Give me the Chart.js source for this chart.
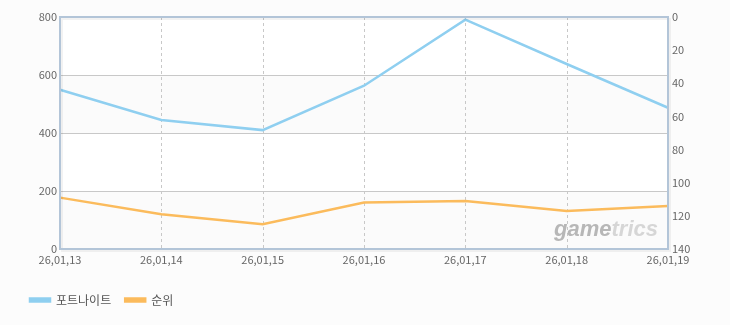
<!DOCTYPE html>
<html lang="ko">
<head>
<meta charset="UTF-8">
<title>포트나이트 순위</title>
<script src="https://cdn.jsdelivr.net/npm/chart.js"></script>
<style>
    html, body { margin: 0; padding: 0; background: #fcfcfc; }
    #wrap { width: 730px; height: 325px; }
</style>
</head>
<body>
<div id="wrap"><canvas id="rankChart"></canvas></div>
<script>
// data
const dates = ['26,01,13', '26,01,14', '26,01,15', '26,01,16', '26,01,17', '26,01,18', '26,01,19'];
const fortniteValues = [549, 445, 410, 563, 791, 638, 487];
const rankValues = [109, 119, 125, 112, 111, 117, 114];
const leftTicks = [0, 200, 400, 600, 800];
const rightTicks = [0, 20, 40, 60, 80, 100, 120, 140];

const tickFont = { family: "'Noto Sans CJK KR', 'DejaVu Sans', sans-serif", size: 11 };

// bands, border and watermark around the plot area
const plotDeco = {
    id: 'plotDeco',
    beforeDatasetsDraw(chart) {
        const { ctx, chartArea: a, scales } = chart;
        ctx.save();
        ctx.fillStyle = '#ffffff';
        ctx.fillRect(a.left, a.top, a.width, a.height);
        ctx.fillStyle = '#fbfbfb';
        for (let i = 0; i < leftTicks.length - 1; i += 2) {
            const y0 = scales.y.getPixelForValue(leftTicks[i]);
            const y1 = scales.y.getPixelForValue(leftTicks[i + 1]);
            ctx.fillRect(a.left, y1, a.width, y0 - y1);
        }
        // grid redrawn over bands
        ctx.strokeStyle = '#c8c8c8';
        ctx.lineWidth = 1;
        leftTicks.slice(1, -1).forEach(v => {
            const y = Math.round(scales.y.getPixelForValue(v)) + 0.5;
            ctx.beginPath(); ctx.moveTo(a.left, y); ctx.lineTo(a.right, y); ctx.stroke();
        });
        ctx.setLineDash([3, 3]);
        for (let i = 1; i < dates.length - 1; i++) {
            const x = Math.round(scales.x.getPixelForValue(i)) + 0.5;
            ctx.beginPath(); ctx.moveTo(x, a.top); ctx.lineTo(x, a.bottom); ctx.stroke();
        }
        ctx.setLineDash([]);
        // watermark
        ctx.font = "italic bold 22px 'Liberation Sans', sans-serif";
        ctx.textBaseline = 'alphabetic';
        ctx.textAlign = 'left';
        const w1 = ctx.measureText('game').width;
        const w2 = ctx.measureText('trics').width;
        const xs = a.right - 10 - w1 - w2;
        ctx.fillStyle = 'rgba(160,160,160,0.75)';
        ctx.fillText('game', xs, a.bottom - 13);
        ctx.fillStyle = 'rgba(190,190,190,0.6)';
        ctx.fillText('trics', xs + w1, a.bottom - 13);
        ctx.restore();
    },
    afterDraw(chart) {
        const { ctx, chartArea: a } = chart;
        ctx.save();
        ctx.strokeStyle = 'rgba(0,0,0,0.05)';
        ctx.lineWidth = 2;
        ctx.strokeRect(a.left + 2, a.top + 2, a.width, a.height);
        ctx.strokeStyle = '#b3c5d8';
        ctx.lineWidth = 2;
        ctx.strokeRect(a.left, a.top, a.width, a.height);
        ctx.restore();
    }
};

new Chart(document.getElementById('rankChart'), {
    type: 'line',
    data: {
        labels: dates,
        datasets: [{
            label: '포트나이트',
            data: fortniteValues,
            borderColor: '#8fcff0',
            backgroundColor: '#8fcff0',
            borderWidth: 2.5,
            pointRadius: 0,
            tension: 0,
            yAxisID: 'y'
        }, {
            label: '순위',
            data: rankValues,
            borderColor: '#fbbb5c',
            backgroundColor: '#fbbb5c',
            borderWidth: 2.5,
            pointRadius: 0,
            tension: 0,
            yAxisID: 'y1'
        }]
    },
    options: {
        responsive: true,
        maintainAspectRatio: false,
        animation: false,
        layout: { padding: { top: 17, left: 16, right: 0, bottom: 9 } },
        plugins: {
            legend: {
                position: 'bottom',
                align: 'start',
                labels: {
                    boxWidth: 20,
                    boxHeight: 3,
                    padding: 14,
                    color: '#555',
                    font: { family: "'Noto Sans CJK KR', sans-serif", size: 12 }
                }
            },
            tooltip: { enabled: false }
        },
        scales: {
            x: {
                offset: false,
                grid: { display: false, drawTicks: false },
                border: { display: false },
                ticks: { color: '#666', font: tickFont, padding: 4, maxRotation: 0, autoSkip: false },
                afterFit(s) { s.height = 31; }
            },
            y: {
                position: 'left',
                min: 0,
                max: 800,
                afterBuildTicks(s) { s.ticks = leftTicks.map(v => ({ value: v })); },
                grid: { display: false, drawTicks: false },
                border: { display: false },
                ticks: { color: '#666', font: tickFont, padding: 3 },
                afterFit(s) { s.width = 44; }
            },
            y1: {
                position: 'right',
                reverse: true,
                min: 0,
                max: 140,
                afterBuildTicks(s) { s.ticks = rightTicks.map(v => ({ value: v })); },
                grid: { display: false, drawTicks: false },
                border: { display: false },
                ticks: { color: '#666', font: tickFont, padding: 4 },
                afterFit(s) { s.width = 62; }
            }
        }
    },
    plugins: [plotDeco]
});
</script>
</body>
</html>
